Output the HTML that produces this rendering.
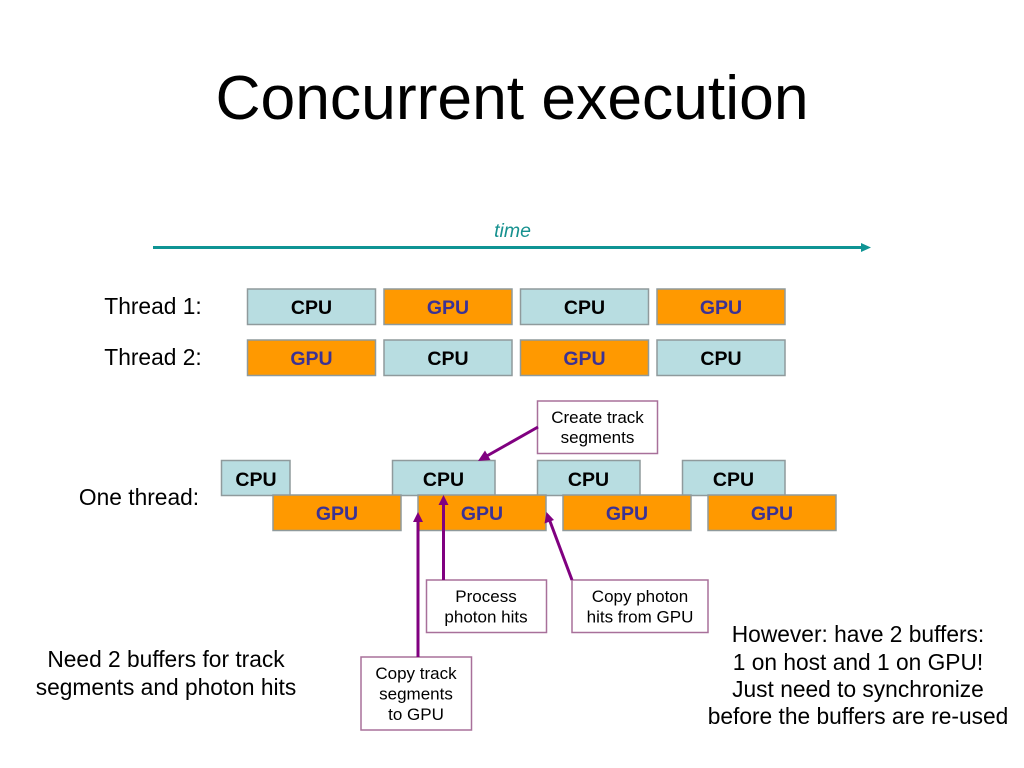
<!DOCTYPE html>
<html>
<head>
<meta charset="utf-8">
<style>
html,body{margin:0;padding:0;background:#fff;width:1024px;height:768px;overflow:hidden}
svg{display:block}
text{font-family:"Liberation Sans",Arial,sans-serif;text-anchor:middle}
.b{stroke:#8f9a9c;stroke-width:1.5}
.c{fill:#b8dde1}
.g{fill:#ff9900}
.ct{font-size:19.5px;font-weight:bold;fill:#000}
.gt{font-size:19.5px;font-weight:bold;fill:#3b3294}
.l{font-size:22.75px;fill:#000}
.n{fill:#fff;stroke:#a8709a;stroke-width:1.5}
.s{font-size:17px;fill:#000}
.a{stroke:#800080;stroke-width:3;fill:none}
.h{fill:#800080}
</style>
</head>
<body>
<svg width="1024" height="768" viewBox="0 0 1024 768" xmlns="http://www.w3.org/2000/svg">
<text x="512" y="119" style="font-size:62.4px" fill="#000">Concurrent execution</text>

<text x="512.5" y="237" style="font-size:19.5px;font-style:italic" fill="#16918f">time</text>
<line x1="153" y1="247.5" x2="863" y2="247.5" stroke="#0f9494" stroke-width="3"/>
<polygon points="871,247.5 861,243 861,252" fill="#0f9494"/>

<text x="153" y="314" class="l">Thread 1:</text>
<text x="153" y="365" class="l">Thread 2:</text>
<text x="139" y="505" class="l">One thread:</text>

<rect x="247.5" y="289" width="128" height="35.5" class="b c"/>
<rect x="384" y="289" width="128" height="35.5" class="b g"/>
<rect x="520.5" y="289" width="128" height="35.5" class="b c"/>
<rect x="657" y="289" width="128" height="35.5" class="b g"/>
<text x="311.5" y="314" class="ct">CPU</text>
<text x="448" y="314" class="gt">GPU</text>
<text x="584.5" y="314" class="ct">CPU</text>
<text x="721" y="314" class="gt">GPU</text>

<rect x="247.5" y="340" width="128" height="35.5" class="b g"/>
<rect x="384" y="340" width="128" height="35.5" class="b c"/>
<rect x="520.5" y="340" width="128" height="35.5" class="b g"/>
<rect x="657" y="340" width="128" height="35.5" class="b c"/>
<text x="311.5" y="365" class="gt">GPU</text>
<text x="448" y="365" class="ct">CPU</text>
<text x="584.5" y="365" class="gt">GPU</text>
<text x="721" y="365" class="ct">CPU</text>

<rect x="221.5" y="460.5" width="68.5" height="35" class="b c"/>
<rect x="392.5" y="460.5" width="102.5" height="35" class="b c"/>
<rect x="537.5" y="460.5" width="102.5" height="35" class="b c"/>
<rect x="682.5" y="460.5" width="102.5" height="35" class="b c"/>
<rect x="273" y="495" width="128" height="35.5" class="b g"/>
<rect x="418" y="495" width="128" height="35.5" class="b g"/>
<rect x="563" y="495" width="128" height="35.5" class="b g"/>
<rect x="708" y="495" width="128" height="35.5" class="b g"/>
<text x="256" y="486" class="ct">CPU</text>
<text x="443.5" y="486" class="ct">CPU</text>
<text x="588.5" y="486" class="ct">CPU</text>
<text x="733.5" y="486" class="ct">CPU</text>
<text x="337" y="520" class="gt">GPU</text>
<text x="482" y="520" class="gt">GPU</text>
<text x="627" y="520" class="gt">GPU</text>
<text x="772" y="520" class="gt">GPU</text>

<rect x="537.5" y="401" width="120" height="52.5" class="n"/>
<text x="597.5" y="423" class="s">Create track</text>
<text x="597.5" y="443" class="s">segments</text>

<rect x="426.5" y="580" width="120" height="52.5" class="n"/>
<text x="486" y="602" class="s">Process</text>
<text x="486" y="622.5" class="s">photon hits</text>

<rect x="572" y="580" width="136" height="52.5" class="n"/>
<text x="640" y="602" class="s">Copy photon</text>
<text x="640" y="622.5" class="s">hits from GPU</text>

<rect x="361" y="657" width="110.5" height="73" class="n"/>
<text x="416" y="679" class="s">Copy track</text>
<text x="416" y="699.5" class="s">segments</text>
<text x="416" y="720" class="s">to GPU</text>

<line x1="538" y1="427" x2="485" y2="457" class="a"/>
<polygon points="478,461 485,450.5 490.5,460" class="h"/>
<line x1="443.5" y1="580" x2="443.5" y2="503" class="a"/>
<polygon points="443.5,495 438.5,505 448.5,505" class="h"/>
<line x1="418" y1="657" x2="418" y2="520" class="a"/>
<polygon points="418,512 413,522 423,522" class="h"/>
<line x1="572" y1="580" x2="549.5" y2="520" class="a"/>
<polygon points="546.5,512 544.5,523.5 554,520" class="h"/>

<text x="166" y="667" class="l">Need 2 buffers for track</text>
<text x="166" y="695" class="l">segments and photon hits</text>

<text x="858" y="642" class="l">However: have 2 buffers:</text>
<text x="858" y="670" class="l">1 on host and 1 on GPU!</text>
<text x="858" y="697" class="l">Just need to synchronize</text>
<text x="858" y="724" class="l">before the buffers are re-used</text>
</svg>
</body>
</html>
